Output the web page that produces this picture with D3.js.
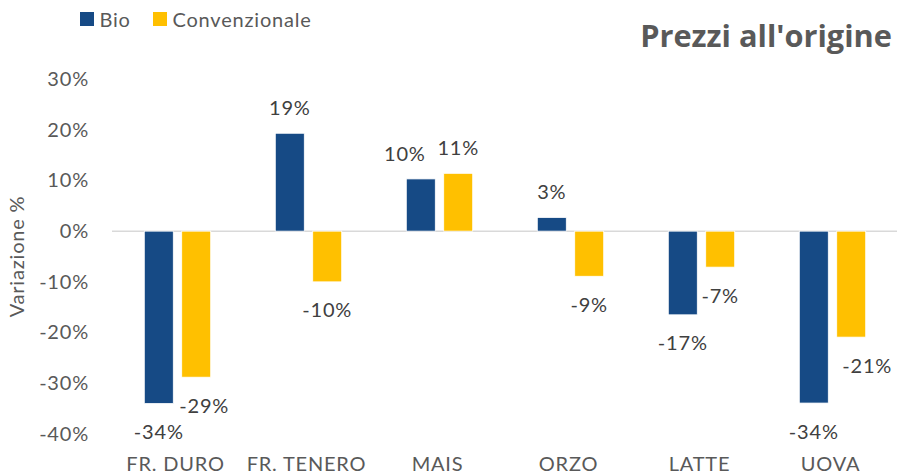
<!DOCTYPE html>
<html>
<head>
<meta charset="utf-8">
<script src="https://cdn.jsdelivr.net/npm/d3@7"></script>
<style>
  html, body { margin: 0; padding: 0; background: #fff; }
  svg { display: block; }
  text { font-family: Lato, "Open Sans", sans-serif; }
  .txt { font-size: 20px; letter-spacing: 0.8px; }
</style>
</head>
<body>
<svg id="chart" width="897" height="475"></svg>
<script>
const categories = ["FR. DURO", "FR. TENERO", "MAIS", "ORZO", "LATTE", "UOVA"];
const seriesNames = ["Bio", "Convenzionale"];
const bioValues = [-34, 19.3, 10.3, 2.7, -16.5, -33.9];
const convValues = [-28.8, -10.0, 11.4, -8.9, -7.1, -20.9];
const bioLabels = ["-34%", "19%", "10%", "3%", "-17%", "-34%"];
const convLabels = ["-29%", "-10%", "11%", "-9%", "-7%", "-21%"];
const yTicks = [-40, -30, -20, -10, 0, 10, 20, 30];
const yTickLabels = ["-40%", "-30%", "-20%", "-10%", "0%", "10%", "20%", "30%"];

const colors = { "Bio": "#164A85", "Convenzionale": "#FFC000" };
const svg = d3.select("#chart");

const x0 = d3.scaleBand().domain(categories).range([112, 898])
  .paddingInner(0.493).paddingOuter(0.2465);
const x1 = d3.scaleBand().domain(seriesNames).range([0, x0.bandwidth()])
  .paddingInner(0.225).paddingOuter(0);
const y = d3.scaleLinear().domain([-40, 30]).range([434, 79]);

const rows = categories.map((c, i) => ({
  cat: c,
  vals: [
    { s: "Bio", v: bioValues[i], label: bioLabels[i] },
    { s: "Convenzionale", v: convValues[i], label: convLabels[i] }
  ]
}));

// Y axis (labels only)
const yAxis = d3.axisLeft(y).tickValues(yTicks)
  .tickFormat((d) => yTickLabels[yTicks.indexOf(d)]).tickSize(0).tickPadding(0);
const gy = svg.append("g").attr("transform", "translate(89,0)").call(yAxis);
gy.select(".domain").remove();
gy.selectAll("text").attr("fill", "#595959").attr("class", "txt")
  .style("font-family", "Lato, sans-serif").style("font-size", null);

// Zero line
svg.append("line")
  .attr("x1", 112).attr("x2", 897)
  .attr("y1", y(0)).attr("y2", y(0))
  .attr("stroke", "#D9D9D9").attr("stroke-width", 1.5);

// Bars
const groups = svg.append("g").selectAll("g").data(rows).join("g")
  .attr("transform", (d) => `translate(${x0(d.cat)},0)`);
groups.selectAll("rect").data((d) => d.vals).join("rect")
  .attr("x", (d) => x1(d.s))
  .attr("width", x1.bandwidth())
  .attr("y", (d) => y(Math.max(0, d.v)))
  .attr("height", (d) => Math.abs(y(d.v) - y(0)))
  .attr("fill", (d) => colors[d.s])
  .attr("stroke", "#ffffff").attr("stroke-width", 0.8);

// Data labels
const nudge = { "FR. DURO|Convenzionale": 8, "UOVA|Convenzionale": 16, "MAIS|Bio": -16 };
groups.each(function (row) {
  d3.select(this).selectAll("text.lbl").data(row.vals).join("text")
    .attr("class", "lbl txt")
    .attr("x", (d) => x1(d.s) + x1.bandwidth() / 2 + (nudge[row.cat + "|" + d.s] || 0))
    .attr("y", (d) => (d.v >= 0 ? y(d.v) - 25 : y(d.v) + 28.5) + 7)
    .attr("text-anchor", "middle")
    .attr("fill", "#404040")
    .text((d) => d.label);
});

// X axis labels
const xAxis = d3.axisBottom(x0).tickSize(0).tickPadding(0);
const gx = svg.append("g").attr("transform", "translate(-2,457)").call(xAxis);
gx.select(".domain").remove();
gx.selectAll("text").attr("fill", "#595959").attr("dy", "0.71em").attr("class", "txt")
  .style("font-family", "Lato, sans-serif").style("font-size", null);
svg.selectAll("g").attr("font-size", null).attr("font-family", null);

// Y axis title
svg.append("text")
  .attr("class", "txt")
  .attr("transform", `translate(24,${y(-5)}) rotate(-90)`)
  .attr("text-anchor", "middle")
  .attr("fill", "#595959")
  .text("Variazione %");

// Legend
const legend = svg.append("g");
const legendX = [80, 153];
seriesNames.forEach((s, i) => {
  legend.append("rect").attr("x", legendX[i]).attr("y", 12).attr("width", 14).attr("height", 14)
    .attr("fill", colors[s]);
  legend.append("text").attr("class", "txt").attr("x", legendX[i] + 19.5).attr("y", 26.5)
    .attr("fill", "#595959").text(s);
});

// Title
const title = svg.append("text")
  .attr("x", 892).attr("y", 47)
  .attr("text-anchor", "end")
  .attr("fill", "#595959")
  .style("font-family", "'Open Sans', sans-serif")
  .style("font-weight", "bold")
  .style("font-size", "26px")
  .text("Prezzi all'origine");
const tw = title.node().getComputedTextLength();
title.style("font-size", (26 * 252 / tw) + "px");
</script>
</body>
</html>
